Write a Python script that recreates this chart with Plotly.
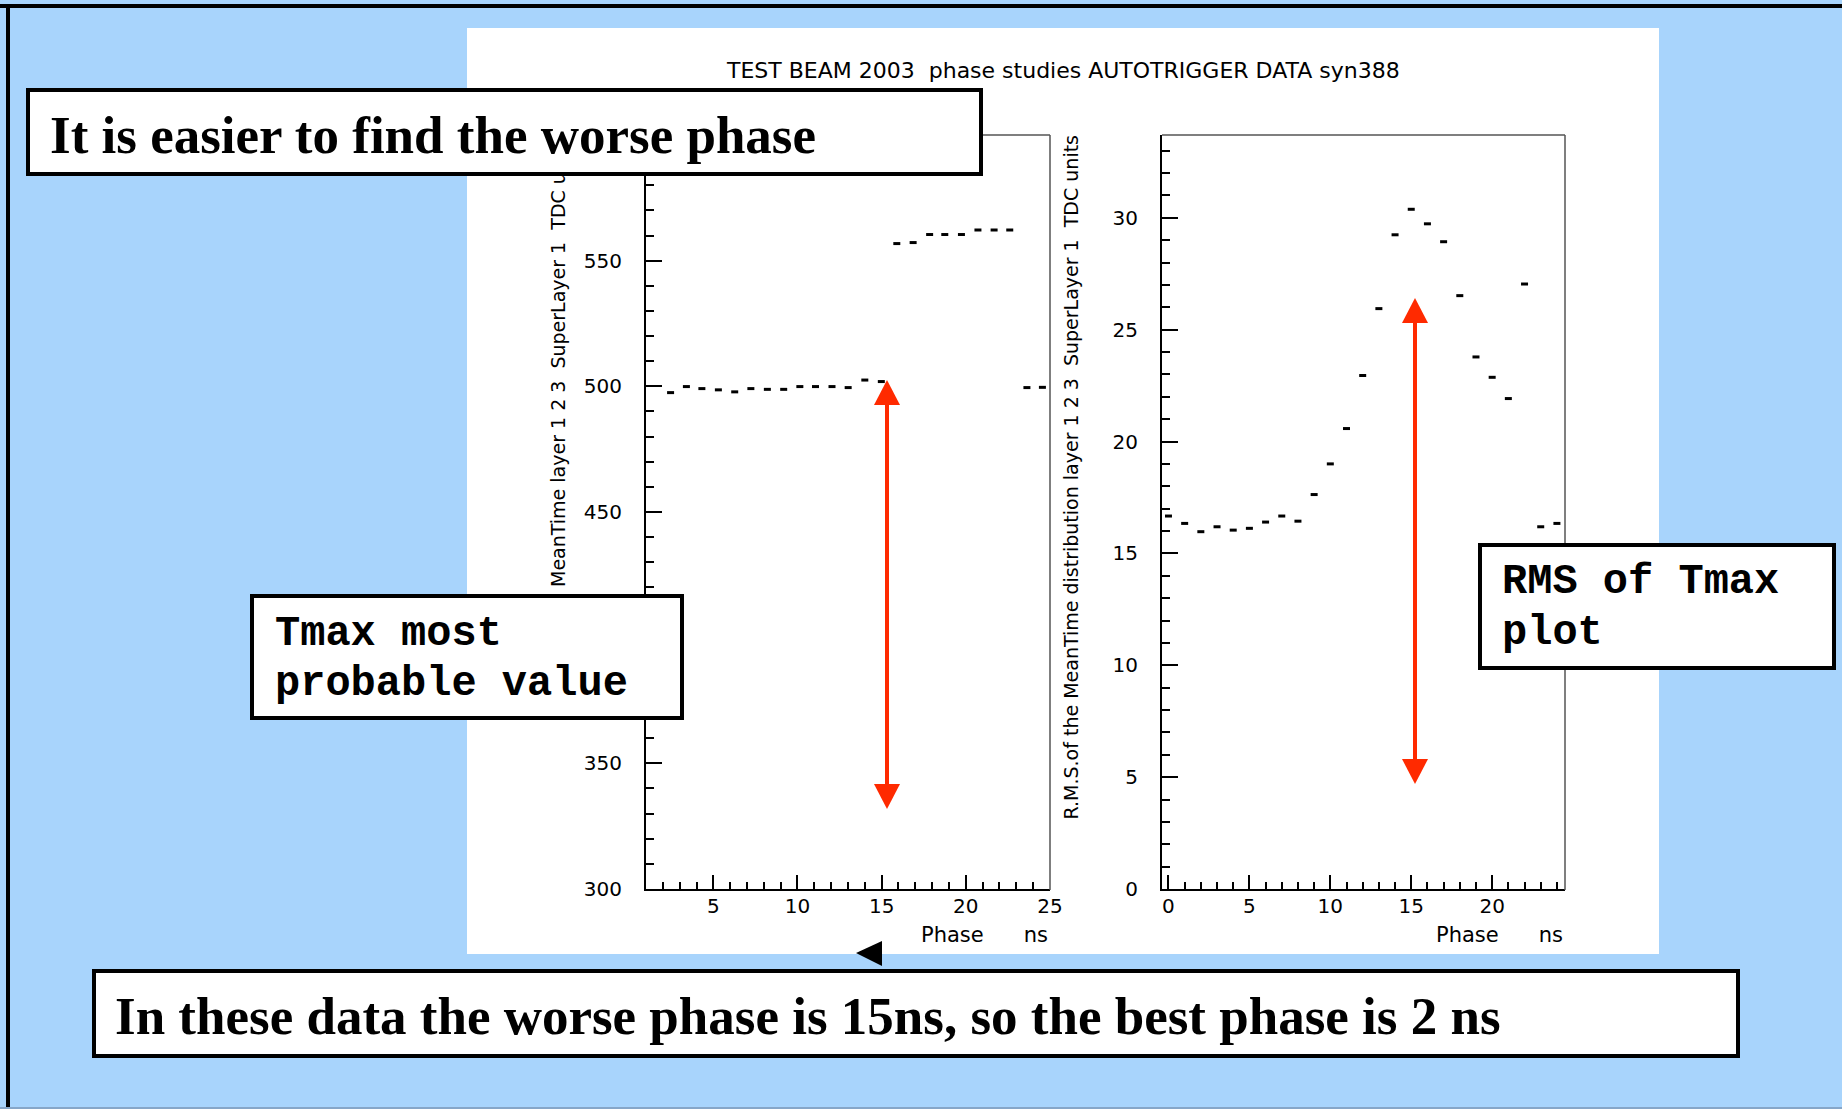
import plotly.graph_objects as go

W, H = 1842, 1109

# Tmax most probable value (MeanTime, TDC units) vs phase (ns)
phase_mean = [2.46, 3.40, 4.32, 5.30, 6.27, 7.23, 8.21, 9.18, 10.14, 11.07, 12.05, 13.01,
              14.00, 14.98, 15.90, 16.87, 17.85, 18.75, 19.74, 20.72, 21.68, 22.61, 23.63, 24.55]
mean_time = [497.5, 499.9, 499.1, 498.6, 497.8, 499.1, 498.8, 498.8, 499.9, 499.9, 499.9, 499.5,
             502.5, 501.9, 556.8, 557.2, 560.4, 560.4, 560.4, 562.2, 562.2, 562.2, 499.5, 499.6]

# RMS of the MeanTime distribution (TDC units) vs phase (ns)
phase_rms = [0, 1, 2, 3, 4, 5, 6, 7, 8, 9, 10, 11, 12, 13, 14, 15, 16, 17, 18, 19, 20, 21, 22, 23, 24]
rms = [16.67, 16.34, 15.97, 16.19, 16.04, 16.12, 16.40, 16.67, 16.44, 17.63, 19.00, 20.58,
       22.95, 25.94, 29.24, 30.38, 29.73, 28.93, 26.52, 23.78, 22.87, 21.92, 27.04, 16.19, 16.34]

plot_title = "TEST BEAM 2003\u00a0\u00a0phase studies AUTOTRIGGER DATA syn388"
ytitle_left = "MeanTime layer 1 2 3\u00a0\u00a0SuperLayer 1\u00a0\u00a0TDC units"
ytitle_right = ("R.M.S.of the MeanTime distribution layer 1 2 3\u00a0\u00a0SuperLayer 1"
                "\u00a0\u00a0TDC units")
xtitle = "Phase" + "\u00a0" * 6 + "ns"

headline = "It is easier to find the worse phase"
note_left = ["Tmax most", "probable value"]
note_right = ["RMS of Tmax", "plot"]
conclusion = "In these data the worse phase is 15ns, so the best phase is 2 ns"

BG = "#a8d4fc"
RED = "#ff2a00"
SERIF = "Liberation Serif"
MONO = "Liberation Mono"
SANS = "DejaVu Sans"


def px(x):
    return x / W


def py(y):
    return 1 - y / H


# short horizontal dashes, as in the histogram printout
dash_marker = dict(symbol="line-ew", size=5, color="black", line=dict(width=3, color="black"))

fig = go.Figure()
fig.add_trace(go.Scatter(x=phase_mean, y=mean_time, mode="markers", marker=dash_marker,
                         xaxis="x", yaxis="y", showlegend=False, hoverinfo="skip"))
fig.add_trace(go.Scatter(x=phase_rms, y=rms, mode="markers", marker=dash_marker,
                         xaxis="x2", yaxis="y2", showlegend=False, hoverinfo="skip"))

tick_font = dict(family=SANS, size=20, color="black")


def x_axis(domain, rng, anchor):
    return dict(domain=domain, range=rng, anchor=anchor, tick0=0, dtick=5,
                ticks="inside", ticklen=14, tickwidth=1.5, tickcolor="black",
                minor=dict(tick0=0, dtick=1, ticks="inside", ticklen=7, tickwidth=1.5,
                           tickcolor="black", showgrid=False),
                showline=True, linecolor="black", linewidth=2, showgrid=False,
                zeroline=False, tickfont=tick_font, ticklabelstandoff=-2, fixedrange=True)


def y_axis(domain, rng, anchor, major, minor):
    return dict(domain=domain, range=rng, anchor=anchor, tick0=0, dtick=major,
                ticks="inside", ticklen=16, tickwidth=1.5, tickcolor="black",
                minor=dict(tick0=0, dtick=minor, ticks="inside", ticklen=8, tickwidth=1.5,
                           tickcolor="black", showgrid=False),
                showline=True, linecolor="black", linewidth=2, showgrid=False,
                zeroline=False, tickfont=tick_font, ticklabelstandoff=18, fixedrange=True)


ydom = [py(889), py(135)]
fig.update_layout(
    width=W, height=H, margin=dict(l=0, r=0, t=0, b=0, autoexpand=False),
    paper_bgcolor=BG, plot_bgcolor="rgba(0,0,0,0)",
    xaxis=x_axis([px(646), px(1050)], [1, 25.001], "y"),
    yaxis=y_axis(ydom, [300, 600], "x", 50, 10),
    xaxis2=x_axis([px(1162), px(1565)], [-0.4, 24.5], "y2"),
    yaxis2=y_axis(ydom, [0, 33.7], "x2", 5, 1),
)

shapes = []
# slide frame lines
shapes.append(dict(type="rect", xref="paper", yref="paper", x0=0, x1=1, y0=py(8), y1=py(4),
                   fillcolor="black", line=dict(width=0), layer="below"))
shapes.append(dict(type="rect", xref="paper", yref="paper", x0=px(6), x1=px(10), y0=0, y1=py(4),
                   fillcolor="black", line=dict(width=0), layer="below"))
shapes.append(dict(type="rect", xref="paper", yref="paper", x0=0, x1=1, y0=0, y1=py(1107),
                   fillcolor="#86a6c8", line=dict(width=0), layer="below"))
# white page of the histogram printout
shapes.append(dict(type="rect", xref="paper", yref="paper", x0=px(467), x1=px(1659),
                   y0=py(954), y1=py(28), fillcolor="white", line=dict(width=0), layer="below"))
# upper and right frame edges of both panels
for xl, xr in [(646, 1050), (1162, 1565)]:
    shapes.append(dict(type="line", xref="paper", yref="paper", x0=px(xl), x1=px(xr),
                       y0=py(135), y1=py(135), line=dict(color="#555555", width=1.5)))
    shapes.append(dict(type="line", xref="paper", yref="paper", x0=px(xr), x1=px(xr),
                       y0=py(135), y1=py(890), line=dict(color="#555555", width=1.5)))


def double_arrow(x, top, bottom, head=25, half=13):
    out = [dict(type="line", xref="paper", yref="paper", x0=px(x), x1=px(x),
                y0=py(top + head - 2), y1=py(bottom - head + 2),
                line=dict(color=RED, width=4))]
    for tip, base in [(top, top + head), (bottom, bottom - head)]:
        path = (f"M {px(x)} {py(tip)} L {px(x - half)} {py(base)} "
                f"L {px(x + half)} {py(base)} Z")
        out.append(dict(type="path", xref="paper", yref="paper", path=path,
                        fillcolor=RED, line=dict(width=0)))
    return out


shapes += double_arrow(887, 380, 809)
shapes += double_arrow(1415, 298, 784)
# small pointer below the left panel
shapes.append(dict(type="path", xref="paper", yref="paper",
                   path=f"M {px(856)} {py(953)} L {px(882)} {py(941)} L {px(882)} {py(966)} Z",
                   fillcolor="black", line=dict(width=0)))

annotations = []
annotations.append(dict(text=plot_title, x=px(1063), y=py(70), xref="paper", yref="paper",
                        xanchor="center", yanchor="middle", showarrow=False,
                        font=dict(family=SANS, size=22, color="black")))
annotations.append(dict(text=ytitle_left, x=px(558), y=py(135), xref="paper", yref="paper",
                        xanchor="center", yanchor="top", textangle=-90, showarrow=False,
                        font=dict(family=SANS, size=19, color="black")))
annotations.append(dict(text=ytitle_right, x=px(1070), y=py(133), xref="paper", yref="paper",
                        xanchor="center", yanchor="top", textangle=-90, showarrow=False,
                        font=dict(family=SANS, size=19, color="black")))
for xr in (1050, 1565):
    annotations.append(dict(text=xtitle, x=px(xr), y=py(935), xref="paper", yref="paper",
                            xanchor="right", yanchor="middle", showarrow=False,
                            font=dict(family=SANS, size=21, color="black")))

BW = 4


def box(x0, y0, x1, y1):
    return dict(text="\u00a0", x=px(x0), y=py(y0), xref="paper", yref="paper",
                xanchor="left", yanchor="top", showarrow=False,
                width=(x1 - x0) - 2 * BW, height=(y1 - y0) - 2 * BW,
                bgcolor="white", bordercolor="black", borderwidth=BW, borderpad=0,
                font=dict(size=10))


def line_text(text, x, baseline, family, size, k):
    return dict(text=text, x=px(x), y=py(baseline - k * size), xref="paper", yref="paper",
                xanchor="left", yanchor="middle", showarrow=False, borderpad=0,
                font=dict(family=family, size=size, color="black"))


SERIF_K = (0.891 - 0.216) / 2
MONO_K = (0.833 - 0.300) / 2

annotations.append(box(26, 88, 983, 176))
annotations.append(line_text(f"<b>{headline}</b>", 49, 153, SERIF, 53, SERIF_K))
annotations.append(box(250, 594, 684, 720))
annotations.append(line_text(f"<b>{note_left[0]}</b>", 274, 645, MONO, 42, MONO_K))
annotations.append(line_text(f"<b>{note_left[1]}</b>", 274, 695, MONO, 42, MONO_K))
annotations.append(box(1478, 543, 1836, 670))
annotations.append(line_text(f"<b>{note_right[0]}</b>", 1501, 593, MONO, 42, MONO_K))
annotations.append(line_text(f"<b>{note_right[1]}</b>", 1501, 644, MONO, 42, MONO_K))
annotations.append(box(92, 969, 1740, 1058))
annotations.append(line_text(f"<b>{conclusion}</b>", 114, 1034, SERIF, 53, SERIF_K))

fig.update_layout(shapes=shapes, annotations=annotations)

# the page body must not add its default margin around the fixed-size figure
page_css = ("document.documentElement.style.margin='0';document.body.style.margin='0';"
            "document.body.style.overflow='hidden';document.documentElement.style.overflow='hidden';")
fig.write_html("out.html", post_script=page_css)
